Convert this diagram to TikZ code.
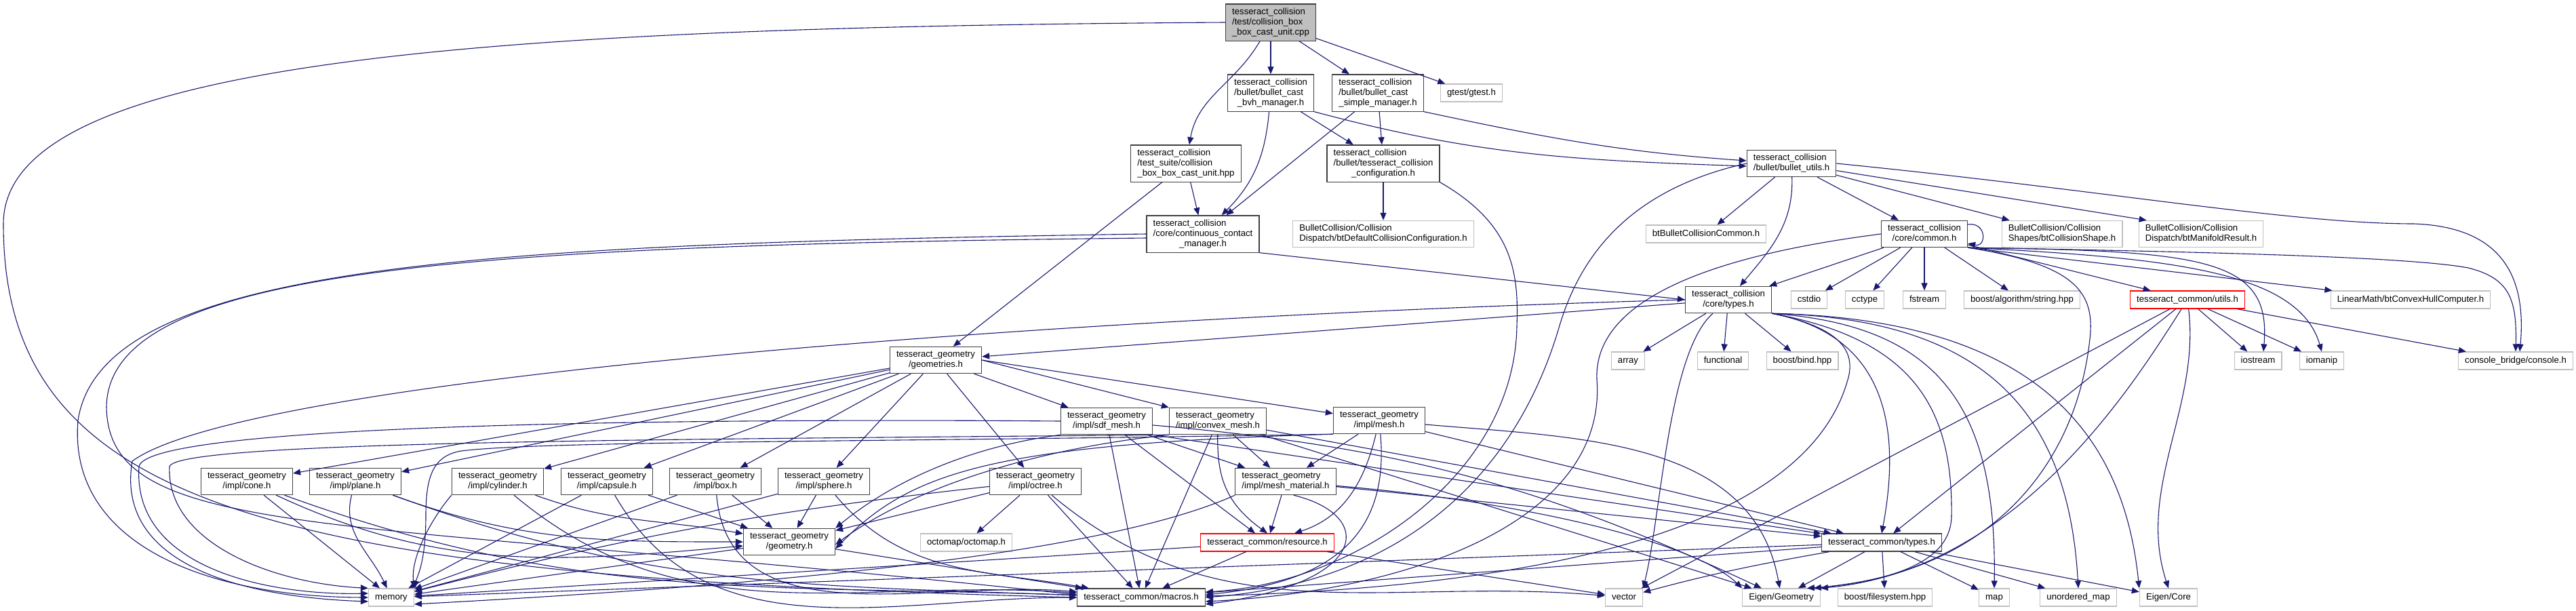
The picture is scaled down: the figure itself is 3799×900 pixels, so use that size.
\documentclass[tikz,border=0pt]{standalone}
\usepackage{fontspec}
\setmainfont{Liberation Sans}
\usepackage{xcolor}
\definecolor{edgeblue}{RGB}{25,25,112}
\definecolor{extgray}{RGB}{191,191,191}
\definecolor{docgray}{RGB}{64,64,64}
\usetikzlibrary{arrows.meta}

% label lines: left aligned, last one centred
\newcommand{\flines}[1]{\begin{tabular}{@{}l@{}}#1\end{tabular}}
\newcommand{\clast}[1]{\multicolumn{1}{@{}c@{}}{#1}}

\begin{document}
\begin{tikzpicture}[x=0.5pt, y=-0.5pt,
  file/.style={draw=docgray, fill=white, line width=0.6pt, inner xsep=4.8pt, inner ysep=2.3pt,
               minimum height=13pt, font=\fontsize{6.6}{7.5}\selectfont},
  ext/.style={file, draw=extgray},
  more/.style={file, draw=red},
  topfile/.style={file, fill=extgray},
  dep/.style={draw=edgeblue, line width=0.55pt, -{Triangle[length=5.5pt,width=4.5pt]}}]

\useasboundingbox (0,0) rectangle (3799,900);

% === Collision files ===
\node[topfile] (root) at (1874,33) {\flines{tesseract\_collision\\/test/collision\_box\\\clast{\_box\_cast\_unit.cpp}}};
\node[file] (bvh) at (1874,137) {\flines{tesseract\_collision\\/bullet/bullet\_cast\\\clast{\_bvh\_manager.h}}};
\node[file] (simple) at (2032,137) {\flines{tesseract\_collision\\/bullet/bullet\_cast\\\clast{\_simple\_manager.h}}};
\node[ext] (gtest) at (2170,137) {\flines{gtest/gtest.h}};
\node[file] (suite) at (1749,241) {\flines{tesseract\_collision\\/test\_suite/collision\\\clast{\_box\_box\_cast\_unit.hpp}}};
\node[file] (tcc) at (2040,241) {\flines{tesseract\_collision\\/bullet/tesseract\_collision\\\clast{\_configuration.h}}};
\node[file] (butils) at (2642,241) {\flines{tesseract\_collision\\\clast{/bullet/bullet\_utils.h}}};
\node[file] (ccm) at (1774,345) {\flines{tesseract\_collision\\/core/continuous\_contact\\\clast{\_manager.h}}};
\node[ext] (btdef) at (2040,345) {\flines{BulletCollision/Collision\\Dispatch/btDefaultCollisionConfiguration.h}};
\node[ext] (btcommon) at (2516,345) {\flines{btBulletCollisionCommon.h}};
\node[file] (common) at (2838,345) {\flines{tesseract\_collision\\\clast{/core/common.h}}};
\node[ext] (btshape) at (3041,345) {\flines{BulletCollision/Collision\\Shapes/btCollisionShape.h}};
\node[ext] (btmanifold) at (3246,345) {\flines{BulletCollision/Collision\\Dispatch/btManifoldResult.h}};
\node[file] (ctypes) at (2549,442) {\flines{tesseract\_collision\\\clast{/core/types.h}}};
\node[ext] (cstdio) at (2668,442) {\flines{cstdio}};
\node[ext] (cctype) at (2750,442) {\flines{cctype}};
\node[ext] (fstream) at (2838,442) {\flines{fstream}};
\node[ext] (bstring) at (2982,442) {\flines{boost/algorithm/string.hpp}};
\node[more] (cutils) at (3226,442) {\flines{tesseract\_common/utils.h}};
\node[ext] (linmath) at (3555,442) {\flines{LinearMath/btConvexHullComputer.h}};

% === Std and third party row ===
\node[ext] (array) at (2401,532) {\flines{array}};
\node[ext] (functional) at (2541,532) {\flines{functional}};
\node[ext] (bind) at (2658,532) {\flines{boost/bind.hpp}};
\node[ext] (iostream) at (3330,532) {\flines{iostream}};
\node[ext] (iomanip) at (3424,532) {\flines{iomanip}};
\node[ext] (console) at (3710,532) {\flines{console\_bridge/console.h}};

% === Geometry files ===
\node[file] (geoms) at (1380,531) {\flines{tesseract\_geometry\\\clast{/geometries.h}}};
\node[file] (sdf) at (1632,621) {\flines{tesseract\_geometry\\\clast{/impl/sdf\_mesh.h}}};
\node[file] (convex) at (1796,621) {\flines{tesseract\_geometry\\\clast{/impl/convex\_mesh.h}}};
\node[file] (mesh) at (2034,620) {\flines{tesseract\_geometry\\\clast{/impl/mesh.h}}};
\node[file] (cone) at (364,710) {\flines{tesseract\_geometry\\\clast{/impl/cone.h}}};
\node[file] (plane) at (524,710) {\flines{tesseract\_geometry\\\clast{/impl/plane.h}}};
\node[file] (cylinder) at (734,710) {\flines{tesseract\_geometry\\\clast{/impl/cylinder.h}}};
\node[file] (capsule) at (895,710) {\flines{tesseract\_geometry\\\clast{/impl/capsule.h}}};
\node[file] (gbox) at (1055,710) {\flines{tesseract\_geometry\\\clast{/impl/box.h}}};
\node[file] (sphere) at (1215,710) {\flines{tesseract\_geometry\\\clast{/impl/sphere.h}}};
\node[file] (octree) at (1527,710) {\flines{tesseract\_geometry\\\clast{/impl/octree.h}}};
\node[file] (material) at (1896,710) {\flines{tesseract\_geometry\\\clast{/impl/mesh\_material.h}}};
\node[file] (geometry) at (1164,799) {\flines{tesseract\_geometry\\\clast{/geometry.h}}};
\node[ext] (octomap) at (1425,800) {\flines{octomap/octomap.h}};
\node[more] (resource) at (1869,800) {\flines{tesseract\_common/resource.h}};
\node[file] (cmtypes) at (2775,800) {\flines{tesseract\_common/types.h}};

% === Bottom row ===
\node[ext] (memory) at (577,881) {\flines{memory}};
\node[file] (macros) at (1683,881) {\flines{tesseract\_common/macros.h}};
\node[ext] (vector) at (2395,881) {\flines{vector}};
\node[ext] (eigeo) at (2627,881) {\flines{Eigen/Geometry}};
\node[ext] (bfs) at (2780,881) {\flines{boost/filesystem.hpp}};
\node[ext] (map) at (2941,881) {\flines{map}};
\node[ext] (umap) at (3065,881) {\flines{unordered\_map}};
\node[ext] (eicore) at (3198,881) {\flines{Eigen/Core}};

% === Straight includes ===
\foreach \a/\b in {root/bvh, root/simple, root/gtest, bvh/tcc, simple/ccm, simple/tcc,
    suite/ccm, suite/geoms, tcc/btdef, butils/btcommon, butils/common, butils/btshape,
    common/ctypes, common/cstdio, common/cctype, common/fstream, common/bstring, common/cutils,
    ctypes/array, ctypes/functional, ctypes/bind, ctypes/geoms,
    cutils/iostream, cutils/iomanip, cutils/console, cutils/cmtypes, cutils/vector,
    geoms/cone, geoms/plane, geoms/cylinder, geoms/capsule, geoms/gbox, geoms/sphere, geoms/octree, geoms/sdf,
    sdf/material, sdf/resource, sdf/macros, convex/material, convex/macros, convex/cmtypes, convex/eigeo,
    mesh/material, mesh/cmtypes, cone/memory, capsule/geometry, capsule/memory, gbox/geometry, gbox/memory,
    sphere/geometry, sphere/memory, octree/geometry, octree/octomap, octree/macros,
    geometry/memory, geometry/macros, material/resource, material/cmtypes,
    resource/macros, resource/memory, resource/vector,
    cmtypes/eigeo, cmtypes/bfs, cmtypes/map, cmtypes/umap, cmtypes/eicore, cmtypes/macros, cmtypes/memory} {
  \draw[dep] (\a) -- (\b);
}

% === Upper curves ===
\draw[dep] (root.west) .. controls (700,40) and (5,90) .. (5,330) .. controls (5,750) and (400,850) .. (macros.west);
\draw[dep] (root) to[out=-120,in=80] (suite);
\draw[dep] (bvh) to[out=-95,in=45] (ccm);
\draw[dep] (bvh.south east) to[out=-15,in=178] ([yshift=-2pt]butils.west);
\draw[dep] (simple.south east) to[out=-12,in=176] ([yshift=2pt]butils.west);
\draw[dep] (tcc.south east) .. controls (2230,330) and (2240,400) .. (2237,480) .. controls (2234,700) and (2000,860) .. ([yshift=4pt]macros.east);
\draw[dep] (ccm.south east) -- (ctypes.west);
\draw[dep] (ccm.west) .. controls (700,360) and (150,390) .. (115,620) .. controls (100,800) and (300,880) .. (memory.west);
\draw[dep] ([yshift=-3pt]ccm.west) .. controls (650,362) and (160,400) .. (157,600) .. controls (160,800) and (500,760) .. ([yshift=2pt]macros.west);

% bullet utils
\draw[dep] (butils) to[out=-88,in=50] (ctypes);
\draw[dep] (butils) -- ([xshift=6pt]btmanifold.north west);
\draw[dep] (butils.east) .. controls (3100,280) and (3380,330) .. (3560,330) .. controls (3700,335) and (3725,420) .. ([xshift=3pt]console.north);
\draw[dep] (butils.west) .. controls (2400,280) and (2330,380) .. (2300,480) .. controls (2230,720) and (2050,860) .. (macros.east);

% core common
\draw[dep] ([yshift=7pt]common.east) .. controls +(28,-4) and +(28,6) .. ([yshift=-7pt]common.east);
\draw[dep] (common.south east) -- (linmath);
\draw[dep] (common.south east) .. controls (3250,370) and (3350,380) .. ([xshift=4pt]iostream.north);
\draw[dep] (common.south east) .. controls (3200,380) and (3390,400) .. (iomanip.north);
\draw[dep] (common.south east) .. controls (3300,372) and (3560,380) .. (3640,395) .. controls (3700,410) and (3712,440) .. (console.north);
\draw[dep] (common.south east) .. controls (3060,390) and (3090,430) .. (3082,500) .. controls (3060,700) and (2920,850) .. ([xshift=-10pt]eigeo.north east);
\draw[dep] (common.west) .. controls (2500,380) and (2350,450) .. (2355,560) .. controls (2370,760) and (2100,870) .. ([yshift=-3pt]macros.east);

% core types
\draw[dep] (ctypes.south east) .. controls (2760,490) and (2810,600) .. (cmtypes.north);
\draw[dep] (ctypes.south east) .. controls (2820,500) and (2880,600) .. (2878,760) .. controls (2878,840) and (2760,858) .. ([xshift=-5pt]eigeo.north east);
\draw[dep] (ctypes.south east) .. controls (2860,480) and (2945,600) .. (map.north);
\draw[dep] (ctypes.south east) .. controls (2920,470) and (3050,600) .. (umap.north);
\draw[dep] (ctypes.south east) .. controls (2980,470) and (3130,620) .. (eicore.north west);
\draw[dep] (ctypes) .. controls (2460,520) and (2450,760) .. (vector.north east);
\draw[dep] (ctypes.west) .. controls (1500,470) and (360,560) .. (195,680) .. controls (170,830) and (350,880) .. ([yshift=-3pt]memory.west);
\draw[dep] (ctypes.south east) .. controls (2700,480) and (2740,510) .. (2725,560) .. controls (2680,720) and (2450,860) .. ([yshift=1pt]macros.east);

% common utils
\draw[dep] (cutils) .. controls (3150,560) and (2980,840) .. (eigeo.north east);
\draw[dep] (cutils) .. controls (3245,600) and (3150,720) .. (eicore.north);

% === Geometry curves ===
\draw[dep] (geoms.east) -- (convex.north west);
\draw[dep] (geoms.east) -- (mesh);
\draw[dep] (sdf.south west) .. controls (1420,660) and (1310,715) .. (geometry.north east);
\draw[dep] (sdf.west) .. controls (900,616) and (215,630) .. (205,688) .. controls (195,840) and (400,878) .. ([yshift=3pt]memory.west);
\draw[dep] (sdf.south east) -- (cmtypes);
\draw[dep] (sdf) to[out=-5,in=155] (eigeo);
\draw[dep] (convex.south west) .. controls (1500,665) and (1330,730) .. ([yshift=-2pt]geometry.east);
\draw[dep] (convex.south west) .. controls (1000,648) and (260,650) .. (250,688) .. controls (245,800) and (400,860) .. (memory.north west);
\draw[dep] (convex) .. controls (1795,700) and (1805,740) .. (resource.north);
\draw[dep] (mesh.south west) .. controls (1450,655) and (1340,700) .. ([yshift=-5pt]geometry.east);
\draw[dep] (mesh.south west) .. controls (1300,652) and (800,650) .. (680,665) .. controls (640,672) and (628,700) .. (628,760) .. controls (628,830) and (615,850) .. (memory.north east);
\draw[dep] (mesh) .. controls (2010,720) and (1975,765) .. ([xshift=20pt]resource.north);
\draw[dep] (mesh) .. controls (2050,800) and (1950,860) .. ([yshift=2pt]macros.east);
\draw[dep] (mesh) to[out=-5,in=100] (eigeo);

% shapes
\draw[dep] (cone) to[out=-25,in=185] (geometry);
\draw[dep] (cone) to[out=-20,in=178] (macros);
\draw[dep] (plane) to[out=-20,in=180] (geometry);
\draw[dep] (plane) to[out=-105,in=115] (memory);
\draw[dep] (plane) to[out=-20,in=178] (macros);
\draw[dep] (cylinder) to[out=-20,in=170] (geometry);
\draw[dep] (cylinder.south west) .. controls (640,760) and (605,820) .. (memory.north east);
\draw[dep] (cylinder) to[out=-40,in=176] (macros);
\draw[dep] (capsule) to[out=-60,in=180] (macros);
\draw[dep] (gbox) to[out=-85,in=175] (macros);
\draw[dep] (sphere) to[out=-50,in=170] (macros);
\draw[dep] (octree) to[bend right=4] (memory);
\draw[dep] (octree) to[out=-40,in=175] (vector);

% mesh material and common types
\draw[dep] (material.-60) .. controls (2030,760) and (2020,860) .. ([yshift=-5pt]macros.east);
\draw[dep] (material.south west) .. controls (1600,830) and (1000,870) .. ([yshift=-5pt]memory.east);
\draw[dep] (material) .. controls (2250,740) and (2500,800) .. (eigeo.north west);
\draw[dep] (cmtypes) to[out=190,in=15] (vector);

\end{tikzpicture}
\end{document}
